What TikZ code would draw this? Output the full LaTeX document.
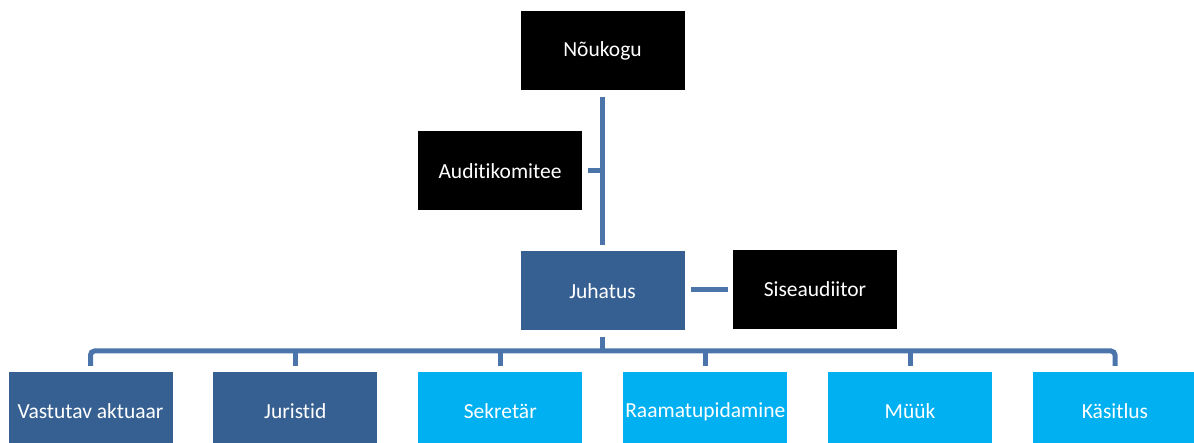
\documentclass[tikz,border=0pt]{standalone}
\usepackage{fontspec}
\setmainfont[Ligatures=NoCommon]{Carlito}
\usetikzlibrary{calc}
\definecolor{darkbox}{RGB}{55,96,146}
\definecolor{lightbox}{RGB}{0,176,240}
\definecolor{connclr}{RGB}{74,116,170}
\tikzset{
  orgbox/.style={minimum width=164pt, minimum height=79pt, inner sep=0pt, text=white, font=\fontsize{21.5}{24}\selectfont},
  blackbox/.style={orgbox, fill=black},
  bluebox/.style={orgbox, fill=darkbox},
  cyanbox/.style={orgbox, fill=lightbox},
  conn/.style={draw=connclr, line width=5pt}
}
\begin{document}
\begin{tikzpicture}[x=1pt,y=1pt]
\useasboundingbox (0,0) rectangle (1194,-443);
\clip (0,0) rectangle (1194,-443);
\node[blackbox] (nou) at (602.5,-51) {Nõukogu};
\node[blackbox] (aud) at (500,-171) {Auditikomitee};
\node[bluebox] (juh) at (602.5,-291) {Juhatus};
\node[blackbox] (sis) at (815,-289.5) {Siseaudiitor};
\node[bluebox] (b1) at (90.5,-411.5) {Vastutav aktuaar};
\node[bluebox] (b2) at (295.3,-411.5) {Juristid};
\node[cyanbox] (b3) at (500.3,-411.5) {Sekretär};
\node[cyanbox] (b4) at (705.3,-411.5) {Raamatupidamine};
\node[cyanbox] (b5) at (910,-411.5) {Müük};
\node[cyanbox] (b6) at (1115,-411.5) {Käsitlus};
% Nõukogu -> Juhatus
\draw[conn] ($(nou.south)+(0,-6)$) -- ($(juh.north)+(0,6)$);
\coordinate (audj) at ($(nou.south)!(aud.east)!(juh.north)$);
\draw[conn] ($(aud.east)+(6,0)$) -- (audj);
% Juhatus -> Siseaudiitor
\draw[conn] ($(sis.west)+(-5,0)$) -- ($(juh.east |- sis.west)+(6,0)$);
% Juhatus -> bus
\coordinate (busy) at (0,-351);
\draw[conn] ($(juh.south)+(0,-6)$) -- (juh.south |- busy);
\draw[conn, rounded corners=4pt] ($(b1.north)+(0,6)$) -- (b1.north |- busy) -- (b6.north |- busy) -- ($(b6.north)+(0,6)$);
\foreach \b in {b2,b3,b4,b5}{
  \draw[conn] (\b.north |- busy) -- ($(\b.north)+(0,6)$);
}
\end{tikzpicture}
\end{document}
